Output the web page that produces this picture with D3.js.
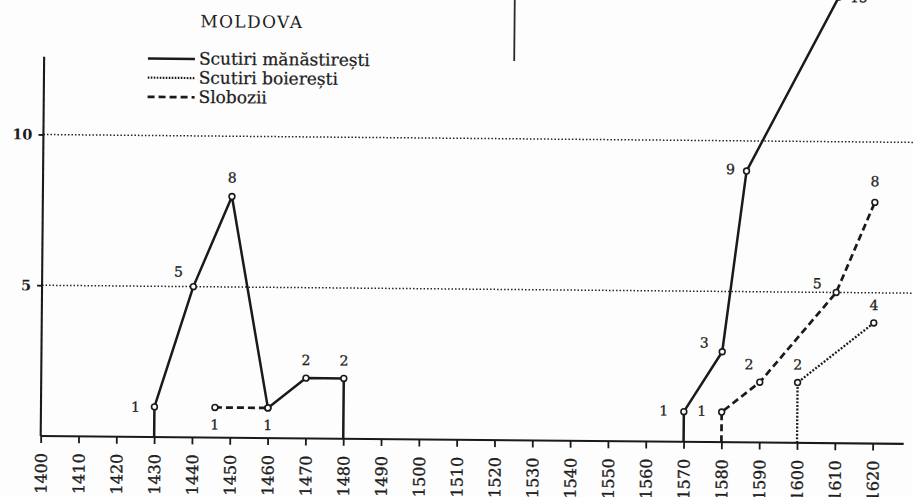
<!DOCTYPE html>
<html>
<head>
<meta charset="utf-8">
<script src="https://cdn.jsdelivr.net/npm/d3@7"></script>
<style>
  body { margin: 0; background: #fdfdfd; }
  svg { display: block; font-family: "DejaVu Serif", serif; }
  text { fill: #1e1e1e; font-family: "DejaVu Serif", serif; }
</style>
</head>
<body>
<svg id="chart" width="913" height="497"></svg>
<script>
// tick labels of both axes
var decades = [1400, 1410, 1420, 1430, 1440, 1450, 1460, 1470, 1480, 1490, 1500, 1510,
               1520, 1530, 1540, 1550, 1560, 1570, 1580, 1590, 1600, 1610, 1620];
var valueTicks = [5, 10];

// Scutiri mănăstirești (solid line), two separate stretches
var monasticEarlyYears = [1430, 1440, 1450, 1460, 1470, 1480];
var monasticEarlyValues = [1, 5, 8, 1, 2, 2];
var monasticLateYears = [1570, 1580, 1586, 1610];
var monasticLateValues = [1, 3, 9, 14.8];

// Scutiri boierești (dotted line)
var boyarYears = [1600, 1620];
var boyarValues = [2, 4];

// Slobozii (dashed line)
var sloboziiEarlyYears = [1446, 1460];
var sloboziiEarlyValues = [1, 1];
var sloboziiLateYears = [1580, 1590, 1610, 1620];
var sloboziiLateValues = [1, 2, 5, 8];

// stray stroke of the neighbouring figure on the scanned page
var strayYear = 1524.3;
var strayValues = [12.58, 15];

// legend entries
var legendNames = ["Scutiri mănăstirești", "Scutiri boierești", "Slobozii"];

window.onload = function()
{
    drawChart();
}

function drawChart()
{
    // the scan is turned a little clockwise, so the whole figure is turned too
    const ORIGIN = {x: 40.7, y: 436},
          TILT = 0.52,
          WIDTH = 832,          // 1400 .. 1620
          UNIT = 30.15;         // pixels per exemption

    var svg = d3.select("#chart");

    var page = svg.append("g")
        .attr("transform", "rotate(" + TILT + "," + ORIGIN.x + "," + ORIGIN.y + ")");

    var g = page.append("g")
        .attr("transform", "translate(" + ORIGIN.x + "," + ORIGIN.y + ")");

    // scales
    var xScale = d3.scaleLinear().domain([1400, 1620]).range([0, WIDTH]),
        yScale = d3.scaleLinear().domain([0, 10]).range([0, -10 * UNIT]);

    // dotted guide lines at 5 and 10
    g.selectAll(".grid")
        .data(valueTicks)
        .enter()
        .append("line")
        .attr("class", "grid")
        .attr("x1", 0)
        .attr("x2", xScale(1632))
        .attr("y1", d => yScale(d))
        .attr("y2", d => yScale(d))
        .attr("stroke", "#222")
        .attr("stroke-width", 1.5)
        .attr("stroke-dasharray", "1.5 2");

    // x axis
    var xAxis = d3.axisBottom(xScale)
        .tickValues(decades)
        .tickSize(7)
        .tickSizeOuter(0)
        .tickFormat(d3.format("d"));

    var gx = g.append("g").call(xAxis);
    gx.select(".domain").remove();
    gx.append("line")
        .attr("x1", 0)
        .attr("x2", xScale(1628.2))
        .attr("stroke", "#1a1a1a")
        .attr("stroke-width", 2.1);
    gx.selectAll(".tick line")
        .attr("stroke", "#1a1a1a")
        .attr("stroke-width", 1.8);
    gx.selectAll(".tick text")
        .attr("transform", "rotate(-90)")
        .attr("x", -17)
        .attr("y", 0)
        .attr("dy", "0.36em")
        .attr("text-anchor", "end")
        .attr("font-family", "DejaVu Serif")
        .attr("font-size", 16)
        .attr("fill", "#1e1e1e")
        .attr("stroke", "#1e1e1e")
        .attr("stroke-width", 0.35);

    // y axis
    var yAxis = d3.axisLeft(yScale)
        .tickValues(valueTicks)
        .tickSize(5)
        .tickSizeOuter(0);

    var gy = g.append("g").call(yAxis);
    gy.select(".domain").remove();
    gy.append("line")
        .attr("y1", yScale(0))
        .attr("y2", yScale(12.58))
        .attr("stroke", "#1a1a1a")
        .attr("stroke-width", 2.1);
    gy.selectAll(".tick line")
        .attr("stroke", "#1a1a1a")
        .attr("stroke-width", 1.8);
    gy.selectAll(".tick text")
        .attr("x", -11)
        .attr("font-family", "DejaVu Serif")
        .attr("font-size", 14.5)
        .attr("font-weight", "bold")
        .attr("fill", "#1e1e1e");

    // series table built from the arrays above
    var solid = {dash: null, width: 2.5},
        dotted = {dash: "1.9 1.7", width: 2.3},
        dashed = {dash: "7 4", width: 2.7};

    var series = [
        {years: monasticEarlyYears, values: monasticEarlyValues, style: solid,
         dropStart: true, dropEnd: true,
         labelAt: [[-19, 0], [-15, -15], [0, -19], [0, 17], [0, -18], [0, -18]]},
        {years: monasticLateYears, values: monasticLateValues, style: solid,
         dropStart: true, dropEnd: false,
         labelAt: [[-20, -1], [-18, -9], [-16, -2], [20, 0]]},
        {years: boyarYears, values: boyarValues, style: dotted,
         dropStart: true, dropEnd: false,
         labelAt: [[0, -18], [0, -18]]},
        {years: sloboziiEarlyYears, values: sloboziiEarlyValues, style: dashed,
         dropStart: false, dropEnd: false,
         labelAt: [[0, 17], null]},
        {years: sloboziiLateYears, values: sloboziiLateValues, style: dashed,
         dropStart: true, dropEnd: false,
         labelAt: [[-20, -1], [-11, -18], [-19, -9], [0, -21]]}
    ];

    var lineGen = d3.line()
        .x(d => xScale(d[0]))
        .y(d => yScale(d[1]));

    series.forEach(s => {
        var pts = s.years.map((y, i) => [y, s.values[i]]);
        var path = pts.slice();
        if (s.dropStart)
            path.unshift([pts[0][0], 0]);
        if (s.dropEnd)
            path.push([pts[pts.length - 1][0], 0]);

        g.append("path")
            .attr("d", lineGen(path))
            .attr("fill", "none")
            .attr("stroke", "#1a1a1a")
            .attr("stroke-width", s.style.width)
            .attr("stroke-dasharray", s.style.dash)
            .attr("stroke-linejoin", "round");
    });

    // open circles and value labels on top of the lines
    series.forEach(s => {
        s.years.forEach((year, i) => {
            g.append("circle")
                .attr("cx", xScale(year))
                .attr("cy", yScale(s.values[i]))
                .attr("r", 2.9)
                .attr("fill", "#fdfdfd")
                .attr("stroke", "#1a1a1a")
                .attr("stroke-width", 1.6);

            var at = s.labelAt[i];
            if (!at)
                return;
            g.append("text")
                .attr("x", xScale(year) + at[0])
                .attr("y", yScale(s.values[i]) + at[1])
                .attr("dy", "0.36em")
                .attr("text-anchor", "middle")
                .attr("font-size", 14)
                .attr("stroke", "#1e1e1e")
                .attr("stroke-width", 0.3)
                .text(Math.round(s.values[i]));
        });
    });

    // stray stroke
    g.append("line")
        .attr("x1", xScale(strayYear))
        .attr("x2", xScale(strayYear))
        .attr("y1", yScale(strayValues[0]))
        .attr("y2", yScale(strayValues[1]))
        .attr("stroke", "#2a2a2a")
        .attr("stroke-width", 1.8);

    // title and legend, placed in the turned page
    var legend = page.append("g")
        .attr("transform", "translate(144.5,0)");

    legend.append("text")
        .attr("x", 52)
        .attr("y", 25.8)
        .attr("font-family", "DejaVu Serif")
        .attr("font-size", 17)
        .attr("letter-spacing", 1.4)
        .text("MOLDOVA");

    var legendStyles = [solid, {dash: "1.6 1.4", width: 2.2}, dashed];

    legendNames.forEach((name, i) => {
        var rowY = 57.5 + i * 19.2;
        legend.append("line")
            .attr("x1", 0)
            .attr("x2", 47)
            .attr("y1", rowY)
            .attr("y2", rowY)
            .attr("stroke", "#1a1a1a")
            .attr("stroke-width", legendStyles[i].width)
            .attr("stroke-dasharray", legendStyles[i].dash);

        legend.append("text")
            .attr("x", 51)
            .attr("y", rowY + 5.5)
            .attr("font-family", "DejaVu Serif")
            .attr("font-size", 17)
            .attr("stroke", "#1e1e1e")
            .attr("stroke-width", 0.25)
            .text(name);
    });
}
</script>
</body>
</html>
